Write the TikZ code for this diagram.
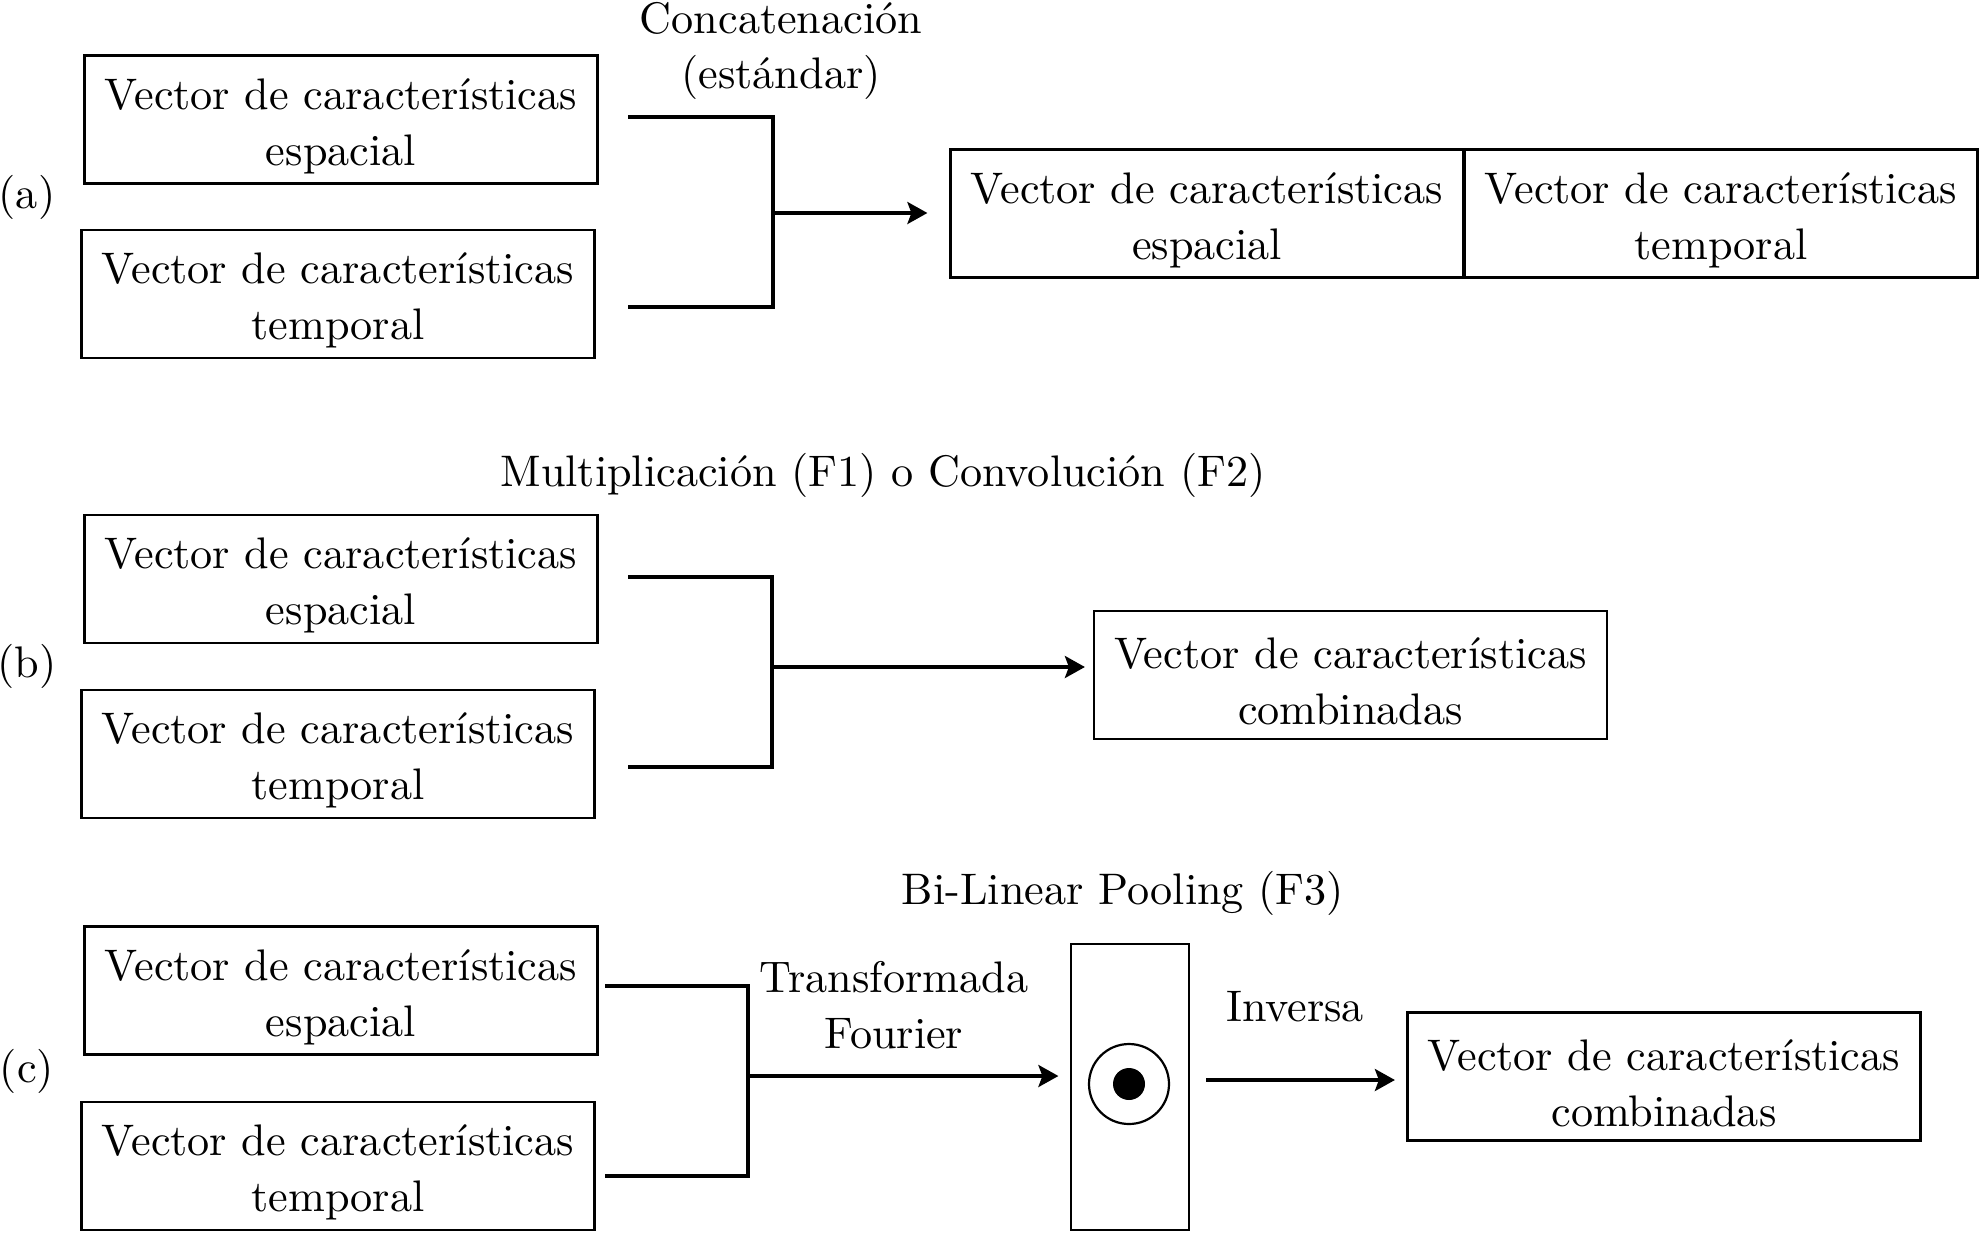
\documentclass[tikz,border=0pt]{standalone}
\usepackage{fontspec}
\setmainfont{lmroman10-regular.otf}
\usetikzlibrary{arrows.meta}
\newcommand{\featline}{\rule{0pt}{44pt}}
\begin{document}
\begin{tikzpicture}[x=1pt,y=-1pt,every node/.style={font=\fontsize{44.2}{55.6}\selectfont},
	vecbox/.style={draw,line width=2.2pt,minimum width=513pt,minimum height=128pt,inner sep=0pt,align=center},
	bracketline/.style={line width=3.4pt},
	arr/.style={line width=3.4pt,-{Stealth[length=20pt,width=22pt,inset=4pt]}}]

	\useasboundingbox (0,0) rectangle (1981,1232);

	% (a) concatenation
	\node (labela) at (27,197) {(a)};
	\node[vecbox] (espa) at (341,119.5) {\featline Vector de características\\espacial};
	\node[vecbox] (tempa) [below of=espa, node distance=174.5pt, xshift=-3pt] {\featline Vector de características\\temporal};
	\node[vecbox] (espr) at (1207,213.5) {\featline Vector de características\\espacial};
	\node[vecbox] (tempr) [right of=espr, node distance=514pt] {\featline Vector de características\\temporal};
	\node[align=center] (concat) at (781,51) {Concatenación\\(estándar)};
	\coordinate (topa) at (628,117);
	\coordinate (bota) at (628,307);
	\coordinate (ja) at (773,213);
	\draw[bracketline] (topa) -| (ja) |- (bota);
	\draw[arr, shorten >=22pt] (ja) -- (ja -| espr.west);

	% (b) F1 / F2
	\node (labelb) at (27,666) {(b)};
	\node[vecbox] (espb) at (341,579) {\featline Vector de características\\espacial};
	\node[vecbox] (tempb) [below of=espb, node distance=175pt, xshift=-3pt] {\featline Vector de características\\temporal};
	\node[vecbox] (outb) at (1350.5,675) {\featline Vector de características\\combinadas};
	\node (mult) at (883,475) {Multiplicación (F1) o Convolución (F2)};
	\coordinate (topb) at (628,577);
	\coordinate (botb) at (628,767);
	\coordinate (jb) at (772,667);
	\draw[bracketline] (topb) -| (jb) |- (botb);
	\draw[arr, shorten >=8pt] (jb) -- (jb -| outb.west);

	% (c) F3
	\node (labelc) at (27,1071) {(c)};
	\node[vecbox] (espc) at (341,990.5) {\featline Vector de características\\espacial};
	\node[vecbox] (tempc) [below of=espc, node distance=175.5pt, xshift=-3pt] {\featline Vector de características\\temporal};
	\node[vecbox] (outc) at (1664,1076.5) {\featline Vector de características\\combinadas};
	\node (bilin) at (1123,893) {Bi-Linear Pooling (F3)};
	\node[draw, line width=2.2pt, minimum width=118pt, minimum height=286pt] (prod) at (1130,1087) {};
	\node[circle, draw, line width=2.2pt, minimum size=80pt] (ring) at (1129,1084) {};
	\node[circle, fill, minimum size=32pt] (dot) at (ring) {};
	\coordinate (topc) at (605,986);
	\coordinate (botc) at (605,1176);
	\coordinate (jc) at (748,1076);
	\draw[bracketline] (topc) -| (jc) |- (botc);
	\draw[arr, shorten >=11.5pt] (jc) -- (jc -| prod.west);
	\node[align=center] (fourier) at (894,1005) {Transformada\\Fourier};
	\draw[arr, shorten <=16pt, shorten >=11.5pt] ([yshift=7pt]prod.east) -- ([yshift=7pt]prod.east -| outc.west);
	\node (inv) at (1295,1007) {Inversa};

\end{tikzpicture}
\end{document}
